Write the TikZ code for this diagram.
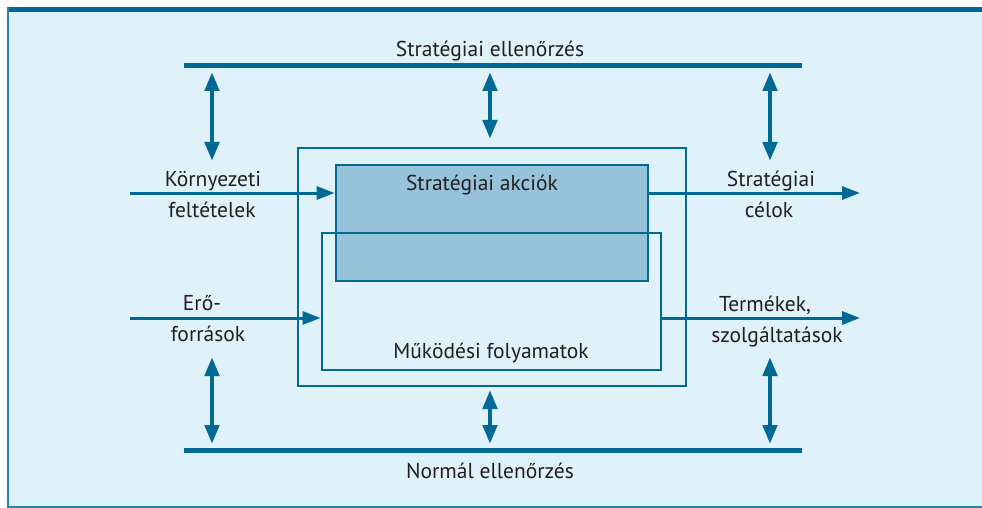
\documentclass[tikz,border=0pt]{standalone}
\usepackage{fontspec}
\setmainfont{PT Sans}
\usetikzlibrary{arrows.meta}

\definecolor{panel}{RGB}{223,242,249}
\definecolor{navy}{RGB}{0,105,148}
\definecolor{edge}{RGB}{40,130,170}
\definecolor{boxfill}{RGB}{150,195,218}
\definecolor{ink}{RGB}{35,31,32}

\tikzset{
  txt/.style={font=\fontsize{21.5}{24}\selectfont, text=ink, anchor=base, inner sep=0pt},
  ctrlbar/.style={draw=navy, line width=5pt},
  frame/.style={draw=navy, line width=2.8pt, inner sep=0pt},
  flow/.style={draw=navy, line width=3pt, -{Triangle[length=18pt,width=13pt]}},
  link/.style={draw=navy, line width=4.5pt, {Triangle[length=19pt,width=14pt]}-{Triangle[length=19pt,width=14pt]}}
}

\begin{document}
\begin{tikzpicture}[x=1pt,y=-1pt]
  \useasboundingbox (0,0) rectangle (982,508);
  % page panel
  \fill[white] (0,0) rectangle (982,508);
  \fill[panel] (7,7) rectangle (982,508);
  \fill[navy] (7,7) rectangle (982,12.5);
  \fill[edge] (7,7) rectangle (9,508);
  \fill[edge] (7,505.5) rectangle (982,508);

  % control bars
  \coordinate (sc-l) at (184,66);
  \coordinate (sc-r) at (802,66);
  \coordinate (nc-l) at (184,450.5);
  \coordinate (nc-r) at (802,450.5);
  \draw[ctrlbar] (sc-l) -- (sc-r);
  \draw[ctrlbar] (nc-l) -- (nc-r);
  \node[txt] (sc-t) at (490,56.5) {Stratégiai ellenőrzés};
  \node[txt] (nc-t) at (490,478) {Normál ellenőrzés};

  % boxes
  \node[frame, minimum width=388pt, minimum height=238pt] (outer) at (492,267) {};
  \node[frame, fill=boxfill, minimum width=312pt, minimum height=116pt] (akcio) at (492,223) {};
  \node[frame, minimum width=339pt, minimum height=137pt] (muk) at (491.5,301.5) {};
  \node[txt] (akcio-t) at (482,190) {Stratégiai akciók};
  \node[txt] (muk-t) at (491,358) {Működési folyamatok};

  % inputs
  \coordinate (in1) at (130,193);
  \coordinate (in2) at (130,318);
  \draw[flow] (in1) -- (akcio.west |- in1);
  \draw[flow] (in2) -- (muk.west |- in2);
  \node[txt] (in1-a) at (213,186) {Környezeti};
  \node[txt] (in1-b) at (212,217) {feltételek};
  \node[txt] (in2-a) at (202,310) {Erő-};
  \node[txt] (in2-b) at (208,341) {források};

  % outputs
  \coordinate (out1) at (860,193);
  \coordinate (out2) at (860,318);
  \draw[flow] (akcio.east |- out1) -- (out1);
  \draw[flow] (muk.east |- out2) -- (out2);
  \node[txt] (out1-a) at (771,186) {Stratégiai};
  \node[txt] (out1-b) at (769,217) {célok};
  \node[txt] (out2-a) at (765,311) {Termékek,};
  \node[txt] (out2-b) at (777,342) {szolgáltatások};

  % links to the control levels
  \coordinate (u1a) at (212,72);  \coordinate (u1b) at (212,161);
  \coordinate (u2a) at (490,72);  \coordinate (u2b) at (490,139);
  \coordinate (u3a) at (770,72);  \coordinate (u3b) at (770,161);
  \coordinate (d1a) at (212,357); \coordinate (d1b) at (212,444);
  \coordinate (d2a) at (490,390); \coordinate (d2b) at (490,444);
  \coordinate (d3a) at (770,357); \coordinate (d3b) at (770,444);
  \draw[link] (u1a) -- (u1b);
  \draw[link] (u2a) -- (u2b);
  \draw[link] (u3a) -- (u3b);
  \draw[link] (d1a) -- (d1b);
  \draw[link] (d2a) -- (d2b);
  \draw[link] (d3a) -- (d3b);
\end{tikzpicture}
\end{document}
